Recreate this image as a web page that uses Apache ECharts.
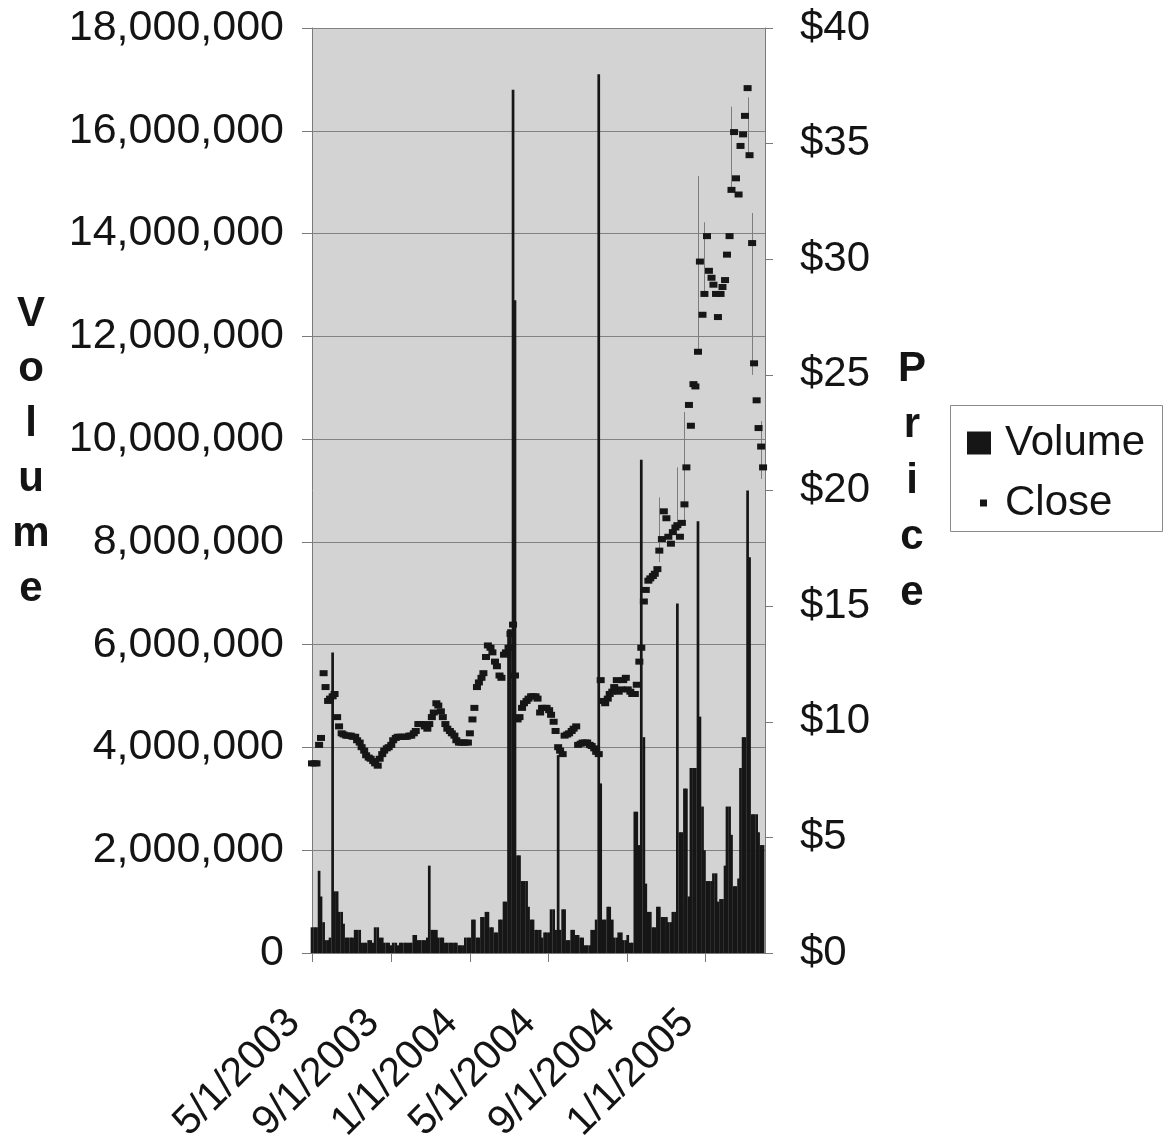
<!DOCTYPE html>
<html><head><meta charset="utf-8">
<script src="https://cdn.jsdelivr.net/npm/echarts@6/dist/echarts.min.js"></script>
<style>html,body{margin:0;padding:0;background:#fff}#c{width:1165px;height:1146px}</style>
</head><body><div id="c"></div>
<script>
const dates = [
'2003-05-01','2003-05-05','2003-05-08','2003-05-12','2003-05-15','2003-05-19','2003-05-22','2003-05-26','2003-05-29','2003-06-02',
'2003-06-05','2003-06-09','2003-06-12','2003-06-16','2003-06-19','2003-06-23','2003-06-26','2003-06-30','2003-07-03','2003-07-07',
'2003-07-10','2003-07-14','2003-07-17','2003-07-21','2003-07-24','2003-07-28','2003-07-31','2003-08-04','2003-08-07','2003-08-11',
'2003-08-14','2003-08-18','2003-08-21','2003-08-25','2003-08-28','2003-09-01','2003-09-04','2003-09-08','2003-09-11','2003-09-15',
'2003-09-18','2003-09-22','2003-09-25','2003-09-29','2003-10-02','2003-10-06','2003-10-09','2003-10-13','2003-10-16','2003-10-20',
'2003-10-23','2003-10-27','2003-10-30','2003-11-03','2003-11-06','2003-11-10','2003-11-13','2003-11-17','2003-11-20','2003-11-24',
'2003-11-27','2003-12-01','2003-12-04','2003-12-08','2003-12-11','2003-12-15','2003-12-18','2003-12-22','2003-12-25','2003-12-29',
'2004-01-01','2004-01-05','2004-01-08','2004-01-12','2004-01-15','2004-01-19','2004-01-22','2004-01-26','2004-01-29','2004-02-02',
'2004-02-05','2004-02-09','2004-02-12','2004-02-16','2004-02-19','2004-02-23','2004-02-26','2004-03-01','2004-03-04','2004-03-08',
'2004-03-11','2004-03-15','2004-03-18','2004-03-22','2004-03-25','2004-03-29','2004-04-01','2004-04-05','2004-04-08','2004-04-12',
'2004-04-15','2004-04-19','2004-04-22','2004-04-26','2004-04-29','2004-05-03','2004-05-06','2004-05-10','2004-05-13','2004-05-17',
'2004-05-20','2004-05-24','2004-05-27','2004-05-31','2004-06-03','2004-06-07','2004-06-10','2004-06-14','2004-06-17','2004-06-21',
'2004-06-24','2004-06-28','2004-07-01','2004-07-05','2004-07-08','2004-07-12','2004-07-15','2004-07-19','2004-07-22','2004-07-26',
'2004-07-29','2004-08-02','2004-08-05','2004-08-09','2004-08-12','2004-08-16','2004-08-19','2004-08-23','2004-08-26','2004-08-30',
'2004-09-02','2004-09-06','2004-09-09','2004-09-13','2004-09-16','2004-09-20','2004-09-23','2004-09-27','2004-09-30','2004-10-04',
'2004-10-07','2004-10-11','2004-10-14','2004-10-18','2004-10-21','2004-10-25','2004-10-28','2004-11-01','2004-11-04','2004-11-08',
'2004-11-11','2004-11-15','2004-11-18','2004-11-22','2004-11-25','2004-11-29','2004-12-02','2004-12-06','2004-12-09','2004-12-13',
'2004-12-16','2004-12-20','2004-12-23','2004-12-27','2004-12-30','2005-01-03','2005-01-06','2005-01-10','2005-01-13','2005-01-17',
'2005-01-20','2005-01-24','2005-01-27','2005-01-31','2005-02-03','2005-02-07','2005-02-10','2005-02-14','2005-02-17','2005-02-21',
'2005-02-24','2005-02-28','2005-03-03','2005-03-07','2005-03-10','2005-03-14','2005-03-17','2005-03-21','2005-03-24','2005-03-28',
'2005-03-31'];

const volume = [
500000,500000,500000,1600000,1100000,600000,250000,250000,300000,5850000,
1200000,1200000,800000,800000,570000,300000,300000,300000,300000,450000,
450000,450000,200000,200000,200000,250000,250000,200000,500000,500000,
300000,300000,200000,200000,200000,150000,200000,200000,150000,200000,
200000,200000,200000,200000,200000,350000,350000,250000,250000,250000,
250000,300000,1700000,450000,450000,450000,300000,300000,300000,200000,
200000,200000,200000,200000,200000,150000,150000,150000,300000,300000,
300000,650000,650000,300000,300000,700000,700000,800000,800000,500000,
500000,400000,400000,650000,650000,1000000,1000000,6300000,6300000,16800000,
12700000,1900000,1900000,1400000,1400000,1400000,900000,650000,650000,450000,
450000,450000,300000,400000,400000,400000,850000,850000,450000,3850000,
450000,850000,850000,250000,250000,450000,450000,350000,350000,300000,
300000,150000,150000,150000,450000,450000,650000,17100000,3300000,650000,
650000,900000,900000,650000,300000,300000,400000,400000,250000,250000,
350000,200000,200000,2750000,2750000,2100000,9600000,4200000,1350000,800000,
800000,500000,500000,900000,900000,700000,700000,700000,600000,600000,
800000,800000,6800000,2350000,2350000,3200000,3200000,1100000,3600000,3600000,
3600000,8400000,4600000,2850000,2000000,1400000,1400000,1400000,1550000,1550000,
1000000,1050000,1050000,1700000,2850000,2850000,2300000,1300000,1300000,1450000,
3600000,4200000,4200000,9000000,7700000,2700000,2700000,2700000,2350000,2100000,
2100000];

const close = [
8.2,8.2,8.2,9.0,9.3,12.1,11.5,10.9,11.0,11.1,
11.2,10.2,9.8,9.5,9.45,9.4,9.4,9.4,9.35,9.35,
9.2,9.1,8.9,8.75,8.55,8.45,8.4,8.3,8.2,8.1,
8.4,8.6,8.75,8.85,8.9,9.0,9.2,9.3,9.35,9.35,
9.35,9.35,9.35,9.4,9.4,9.5,9.6,9.9,9.9,9.9,
9.8,9.7,9.9,10.2,10.4,10.8,10.7,10.45,10.2,9.9,
9.7,9.6,9.5,9.4,9.2,9.1,9.1,9.1,9.1,9.1,
9.5,10.1,10.6,11.5,11.7,11.9,12.1,12.8,13.3,13.2,
13.0,12.6,12.4,12.0,11.9,12.9,13.0,13.2,13.8,14.2,
12.0,10.1,10.2,10.6,10.8,10.9,11.0,11.1,11.1,11.1,
11.0,10.4,10.6,10.6,10.6,10.5,10.3,10.0,9.6,8.9,
8.75,8.6,9.4,9.45,9.5,9.6,9.7,9.8,9.0,9.05,
9.1,9.1,9.1,9.0,8.95,8.85,8.7,8.6,11.8,10.9,
10.8,11.0,11.2,11.3,11.5,11.8,11.3,11.4,11.8,11.9,
11.4,11.3,11.2,11.2,11.6,12.6,13.2,15.2,15.7,16.1,
16.2,16.3,16.4,16.6,17.4,17.9,19.1,18.8,18.0,17.7,
18.2,18.4,18.5,18.0,18.6,19.4,21.0,23.7,22.8,24.6,
24.5,26.0,29.9,27.6,28.5,31.0,29.5,29.2,28.9,28.5,
27.5,28.5,28.8,29.1,30.2,31.0,33.0,35.5,33.5,32.8,
34.9,35.4,36.2,37.4,34.5,30.7,25.5,23.9,22.7,21.9,
21.0];

// Visible daily high-low lines
const hiLoDates = ['2004-10-21','2004-11-18','2004-11-29','2004-12-20','2004-12-30','2005-02-10','2005-03-07','2005-03-14','2005-03-28'];
const hiLoLow   = [16.9, 18.4, 18.6, 26.0, 28.5, 33.0, 34.5, 25.0, 20.5];
const hiLoHigh  = [19.7, 21.0, 23.4, 33.6, 31.6, 36.6, 37.0, 32.0, 23.0];

const xTickDates = ['2003-05-01','2003-09-01','2004-01-01','2004-05-01','2004-09-01','2005-01-01'];
const xRange = ['2003-05-01','2005-04-03'];

function ts(s){const p=s.split('-');return new Date(+p[0],+p[1]-1,+p[2]).getTime();}
function commas(v){return String(Math.round(v)).replace(/\B(?=(\d{3})+(?!\d))/g, ',');}
const FONT = '"Liberation Sans", Arial, Helvetica, sans-serif';
const TXT = '#141414';
const AX = '#7a7a7a';
const tickTs = xTickDates.map(ts);

const chart = echarts.init(document.getElementById('c'));
chart.setOption({
  animation:false,
  backgroundColor:'#ffffff',
  grid:{left:312, top:28, width:453, height:925, show:true, backgroundColor:'#d3d3d3', borderWidth:0},
  xAxis:{
    type:'value', min:ts(xRange[0]), max:ts(xRange[1]),
    axisLine:{show:true, onZero:false, lineStyle:{color:AX, width:1}},
    axisTick:{show:true, customValues:tickTs, length:9, lineStyle:{color:AX}},
    axisLabel:{customValues:tickTs, rotate:45, fontSize:41, fontFamily:FONT, color:TXT, margin:45,
      padding:[0,26,0,0],
      formatter:function(v){const d=new Date(v);return (d.getMonth()+1)+'/'+d.getDate()+'/'+d.getFullYear();}},
    splitLine:{show:false}
  },
  yAxis:[
    {type:'value', min:0, max:18000000, interval:2000000, position:'left',
     axisLine:{show:true, lineStyle:{color:AX}},
     axisTick:{show:true, length:10, lineStyle:{color:AX}},
     axisLabel:{fontSize:43, fontFamily:FONT, color:TXT, margin:28, formatter:commas},
     splitLine:{show:true, lineStyle:{color:'#828282', width:1}}},
    {type:'value', min:0, max:40, interval:5, position:'right',
     axisLine:{show:true, lineStyle:{color:AX}},
     axisTick:{show:true, length:8, lineStyle:{color:AX}},
     axisLabel:{fontSize:42, fontFamily:FONT, color:TXT, margin:35, formatter:function(v){return '$'+v;}},
     splitLine:{show:false}}
  ],
  legend:[
    {data:[{name:'Volume', icon:'rect'}], orient:'vertical', left:962, top:417, itemWidth:24, itemHeight:23, z:10,
     textStyle:{fontSize:42, fontFamily:FONT, color:TXT, padding:[0,0,0,9]}, selectedMode:false},
    {data:[{name:'Close', icon:'rect'}], orient:'vertical', left:975, top:477, itemWidth:7, itemHeight:7, z:10,
     textStyle:{fontSize:42, fontFamily:FONT, color:TXT, padding:[0,0,0,13]}, selectedMode:false}
  ],
  graphic:[
    {type:'rect', z:1, shape:{x:950.5, y:405.5, width:212, height:126}, style:{fill:'#ffffff', stroke:'#8a8a8a', lineWidth:1}},
    {type:'text', z:5, x:31, y:287, style:{text:'V\no\nl\nu\nm\ne', font:'bold 42px "Liberation Sans", Arial, sans-serif', fill:TXT, textAlign:'center', lineHeight:55}},
    {type:'text', z:5, x:912, y:341, style:{text:'P\nr\ni\nc\ne', font:'bold 42px "Liberation Sans", Arial, sans-serif', fill:TXT, textAlign:'center', lineHeight:56}}
  ],
  series:[
    {name:'Volume', type:'bar', yAxisIndex:0, barWidth:2.7,
     data:dates.map(function(d,i){return [ts(d), volume[i]];}),
     itemStyle:{color:'#161616'}},
    {name:'HighLow', type:'custom', yAxisIndex:1, z:2,
     data:hiLoDates.map(function(d,i){return [ts(d), hiLoLow[i], hiLoHigh[i]];}),
     renderItem:function(params, api){
       const p1 = api.coord([api.value(0), api.value(1)]);
       const p2 = api.coord([api.value(0), api.value(2)]);
       return {type:'line', shape:{x1:Math.round(p1[0])+0.5, y1:p1[1], x2:Math.round(p2[0])+0.5, y2:p2[1]},
               style:{stroke:'#7d7d7d', lineWidth:1}};
     }},
    {name:'Close', type:'scatter', yAxisIndex:1, symbol:'rect', symbolSize:[8,6], z:3,
     data:dates.map(function(d,i){return [ts(d), close[i]];}),
     itemStyle:{color:'#161616', opacity:1}}
  ]
});
</script></body></html>
